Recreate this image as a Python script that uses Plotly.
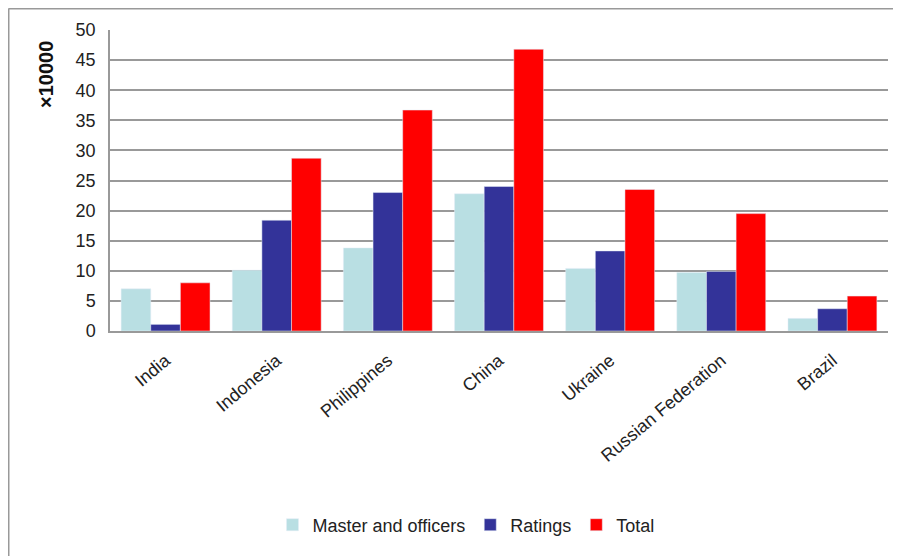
import plotly.graph_objects as go

countries = ["India", "Indonesia", "Philippines", "China", "Ukraine", "Russian Federation", "Brazil"]
master_officers = [7.0, 10.1, 13.8, 22.8, 10.4, 9.7, 2.1]
ratings = [1.1, 18.4, 23.0, 24.0, 13.3, 9.9, 3.7]
total = [8.0, 28.7, 36.7, 46.8, 23.5, 19.5, 5.8]
y_ticks = [0, 5, 10, 15, 20, 25, 30, 35, 40, 45, 50]

# page is offset by the 8px default body margin
W, H = 893, 548
L, T, R, B = 102, 22, 13, 225
PW, PH = W - L - R, H - T - B

fig = go.Figure()
fig.add_trace(go.Bar(name="Master and officers", x=countries, y=master_officers, marker_color="#B9DFE3"))
fig.add_trace(go.Bar(name="Ratings", x=countries, y=ratings, marker_color="#333399"))
fig.add_trace(go.Bar(name="Total", x=countries, y=total, marker_color="#FF0000"))

fig.update_layout(
    width=W, height=H,
    margin=dict(l=L, r=R, t=T, b=B),
    paper_bgcolor="white", plot_bgcolor="white",
    barmode="group", bargap=0.2, bargroupgap=0,
    font=dict(family="Liberation Sans, Arial, sans-serif", size=16, color="#222"),
    showlegend=True,
    legend=dict(orientation="h", x=(458 - L) / PW, xanchor="center", y=(T + PH - 517) / PH, yanchor="middle",
                font=dict(size=18, color="#222"), itemwidth=30, traceorder="normal"),
    xaxis=dict(tickangle=-40, tickfont=dict(size=18), showline=True, linecolor="#999",
               linewidth=2, ticks="", showgrid=False, ticklabelstandoff=10),
    yaxis=dict(range=[0, 50], tickvals=y_ticks, showgrid=True, gridcolor="#999", gridwidth=1.5,
               showline=True, linecolor="#999", linewidth=1.5, ticks="", zeroline=False,
               tickfont=dict(size=18), ticklabelstandoff=9),
)
fig.add_annotation(text="<b>×10000</b>", textangle=-90, xref="paper", yref="paper",
                   x=(38 - L) / PW, y=(T + PH - 67) / PH, showarrow=False, xanchor="center", yanchor="middle",
                   font=dict(size=20, color="#111", family="Liberation Sans, Arial, sans-serif"))
# outer frame (left and top edges)
fig.add_shape(type="line", xref="paper", yref="paper",
              x0=(0.5 - L) / PW, x1=(0.5 - L) / PW, y0=(T + PH - H) / PH, y1=(T + PH - 0.5) / PH,
              line=dict(color="#999", width=2))
fig.add_shape(type="line", xref="paper", yref="paper",
              x0=(0.5 - L) / PW, x1=(W - L) / PW, y0=(T + PH - 0.5) / PH, y1=(T + PH - 0.5) / PH,
              line=dict(color="#999", width=2))
fig.write_html("out.html")
